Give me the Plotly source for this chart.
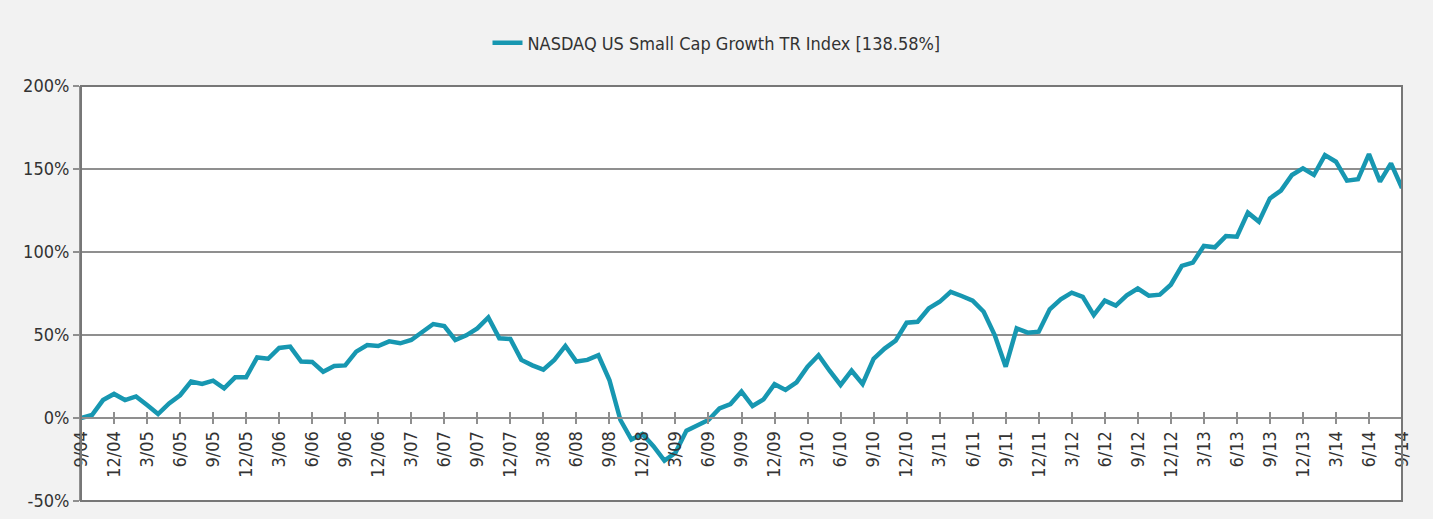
import plotly.graph_objects as go

# Monthly cumulative return (%) from 9/04 through 9/14
values = [
    0, 1.8, 10.8, 14.5, 10.8, 13, 7.8, 2.4, 8.8, 13.7, 22, 20.5,
    22.5, 17.9, 24.5, 24.5, 36.5, 35.7, 42.2, 43, 34, 33.8, 27.9, 31.3,
    31.7, 40, 44, 43.4, 46.2, 45, 47, 51.6, 56.6, 55.4, 47, 49.8,
    54, 60.6, 48, 47.6, 35, 31.7, 29.1, 35, 43.4, 34, 35, 37.8,
    22.9, -1.2, -13, -9.6, -17, -25.7, -21, -7.6, -4.2, -1.2, 5.8, 8.4,
    15.9, 7.2, 11.2, 20.4, 16.9, 21.5, 30.9, 37.8, 28.5, 19.9, 28.5, 20.5,
    35.7, 41.8, 46.6, 57.4, 58, 66, 70, 76, 73.5, 70.7, 64, 50,
    30.9, 54, 51.4, 52, 65.5, 71.5, 75.5, 73, 62, 70.7, 67.7, 73.9,
    78, 73.7, 74.3, 80.3, 91.6, 93.6, 103.6, 102.8, 109.6, 109.2, 123.7, 118.3,
    132.3, 137, 146.4, 150.4, 146.4, 158.4, 154.4, 143, 143.8, 159, 142.4, 153.4,
    138.58,
]

series_name = "NASDAQ US Small Cap Growth TR Index [138.58%]"

# month labels m/yy from 9/04 to 9/14
months = []
m, y = 9, 4
for _ in range(len(values)):
    months.append(f"{m}/{y:02d}")
    m += 1
    if m > 12:
        m = 1
        y += 1

tick_labels = months[::3]
y_ticks = [-50, 0, 50, 100, 150, 200]

FONT = "Liberation Sans Narrow, DejaVu Sans Condensed, Arial Narrow, sans-serif"
GRID = "#8f8f8f"
TEXT = "#333333"

x_idx = list(range(len(values)))

fig = go.Figure()
fig.add_trace(go.Scatter(
    x=x_idx, y=values, mode="lines", name=series_name,
    line=dict(color="#1797b1", width=4.5),
))
# invisible trace for the upper half of the x tick marks
fig.add_trace(go.Scatter(x=[0], y=[0], xaxis="x2", mode="none",
                         showlegend=False, hoverinfo="skip"))

fig.update_layout(
    width=1433, height=519,
    paper_bgcolor="#f2f2f2", plot_bgcolor="#ffffff",
    margin=dict(l=81, r=31, t=86, b=18, autoexpand=False),
    font=dict(family=FONT, color=TEXT, size=18),
    showlegend=True,
    legend=dict(orientation="h", x=0.5, xanchor="center", xref="container",
                y=1 - 43 / 519, yanchor="middle", yref="container",
                font=dict(size=18, color=TEXT), bgcolor="rgba(0,0,0,0)"),
    xaxis=dict(
        range=[0, len(values) - 1], automargin=False,
        tickmode="array", tickvals=x_idx[::3], ticktext=tick_labels,
        tickangle=-90, ticks="outside", ticklen=5, tickcolor=GRID, tickwidth=2,
        showgrid=False, zeroline=False,
        showline=True, linecolor=GRID, linewidth=2,
        anchor="free", position=0.2,
        tickfont=dict(size=18, color=TEXT),
    ),
    xaxis2=dict(
        range=[0, len(values) - 1], overlaying="x", automargin=False,
        tickmode="array", tickvals=x_idx[::3], ticktext=[""] * len(tick_labels),
        ticks="inside", ticklen=6, tickcolor=GRID, tickwidth=2,
        showgrid=False, zeroline=False, showline=False,
        anchor="free", position=0.2, side="bottom", showticklabels=False,
    ),
    yaxis=dict(
        range=[-50, 200], tickmode="array", tickvals=y_ticks, automargin=False,
        ticktext=[f"{v}%" for v in y_ticks],
        ticks="outside", ticklen=6, tickcolor=GRID, tickwidth=2,
        showgrid=True, gridcolor=GRID, gridwidth=2,
        zeroline=False, showline=True, linecolor=GRID, linewidth=2,
        tickfont=dict(size=18, color=TEXT),
    ),
    shapes=[dict(type="rect", xref="paper", yref="paper", x0=0, x1=1, y0=0, y1=1,
                 line=dict(color="#777777", width=2), layer="above")],
)

fig.write_html("out.html", config={"displayModeBar": False},
               post_script="document.body.style.margin='0';")
